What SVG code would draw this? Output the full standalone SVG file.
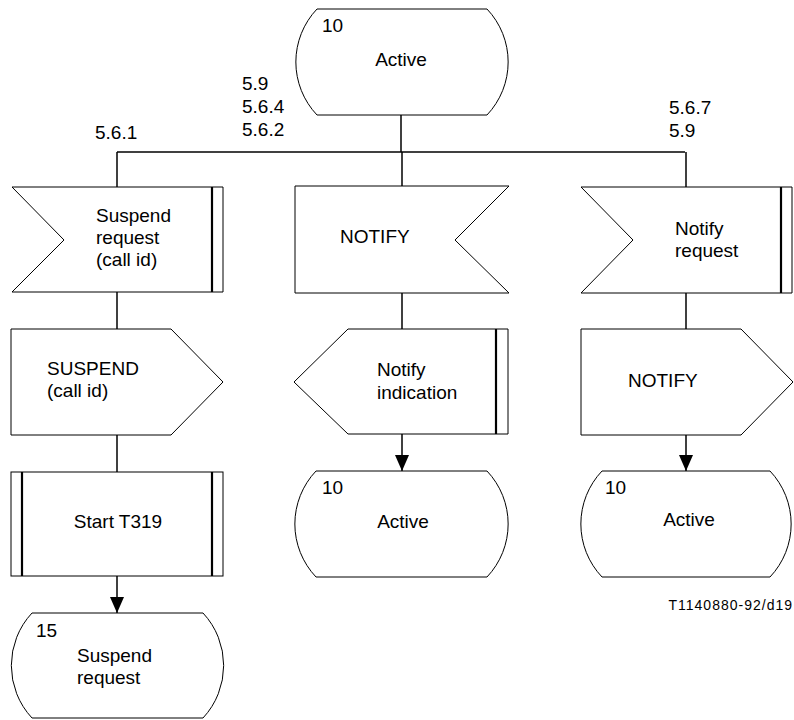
<svg xmlns="http://www.w3.org/2000/svg" width="794" height="720" viewBox="0 0 794 720">
<style>
.s{fill:#fff;stroke:#000;stroke-width:1}
.b{fill:none;stroke:#000;stroke-width:2.2}
.c{fill:none;stroke:#000;stroke-width:1.5}
text{font-family:"Liberation Sans",Arial,sans-serif;font-size:19px;fill:#000}
.m{text-anchor:middle}
.sm{font-size:14px;letter-spacing:1px;text-anchor:end}
</style>
<defs>
<marker id="ah" markerUnits="userSpaceOnUse" markerWidth="16" markerHeight="16" viewBox="0 0 16 16" refX="16" refY="8" orient="auto">
<path d="M0,1 L16,8 L0,15 Z" fill="#000"/>
</marker>
</defs>
<rect width="794" height="720" fill="#fff"/>
<g id="connectors">
<line class="c" x1="401" y1="115" x2="401" y2="152"/>
<line class="c" x1="117" y1="152" x2="685" y2="152"/>
<line class="c" x1="117" y1="152" x2="117" y2="187"/>
<line class="c" x1="402" y1="152" x2="402" y2="186"/>
<line class="c" x1="686" y1="152" x2="686" y2="187"/>
<line class="c" x1="117" y1="292" x2="117" y2="329"/>
<line class="c" x1="402" y1="293" x2="402" y2="329"/>
<line class="c" x1="686" y1="293" x2="686" y2="329"/>
<line class="c" x1="117" y1="435" x2="117" y2="472"/>
<line class="c" x1="117" y1="576" x2="117" y2="613" marker-end="url(#ah)"/>
<line class="c" x1="402" y1="434" x2="402" y2="471" marker-end="url(#ah)"/>
<line class="c" x1="686" y1="435" x2="686" y2="471" marker-end="url(#ah)"/>
</g>
<g id="labels">
<text x="242" y="90">5.9</text>
<text x="242" y="113">5.6.4</text>
<text x="242" y="136">5.6.2</text>
<text x="95" y="139">5.6.1</text>
<text x="669" y="114">5.6.7</text>
<text x="669" y="137">5.9</text>
<text class="sm" x="793" y="610">T1140880-92/d19</text>
</g>
<g id="state-top">
<path class="s" d="M317,9 L487,9 A77,77 0 0 1 487,115 L317,115 A77,77 0 0 1 317,9 Z"/>
<text x="322" y="32">10</text>
<text class="m" x="401" y="66">Active</text>
</g>
<g id="in-suspend-request">
<path class="s" d="M12,187 L223,187 L223,292 L12,292 L64,240 Z"/>
<line class="b" x1="212" y1="187" x2="212" y2="292"/>
<text x="96" y="222">Suspend</text>
<text x="96" y="244">request</text>
<text x="96" y="266">(call id)</text>
</g>
<g id="in-notify">
<path class="s" d="M295,186 L509,186 L455,240 L509,293 L295,293 Z"/>
<text x="340" y="243">NOTIFY</text>
</g>
<g id="in-notify-request">
<path class="s" d="M581,187 L792,187 L792,293 L581,293 L633,240 Z"/>
<line class="b" x1="781" y1="187" x2="781" y2="293"/>
<text x="675" y="235">Notify</text>
<text x="675" y="257">request</text>
</g>
<g id="out-suspend">
<path class="s" d="M11,329 L171,329 L223,382 L171,435 L11,435 Z"/>
<text x="47" y="375">SUSPEND</text>
<text x="47" y="397">(call id)</text>
</g>
<g id="out-notify-indication">
<path class="s" d="M348,329 L508,329 L508,434 L348,434 L294,382 Z"/>
<line class="b" x1="496" y1="329" x2="496" y2="434"/>
<text x="377" y="376">Notify</text>
<text x="377" y="399">indication</text>
</g>
<g id="out-notify">
<path class="s" d="M581,329 L741,329 L793,382 L741,435 L581,435 Z"/>
<text x="628" y="387">NOTIFY</text>
</g>
<g id="task-start-t319">
<rect class="s" x="11" y="472" width="212" height="104"/>
<line class="b" x1="22" y1="472" x2="22" y2="576"/>
<line class="b" x1="212" y1="472" x2="212" y2="576"/>
<text class="m" x="118" y="528">Start T319</text>
</g>
<g id="state-15">
<path class="s" d="M32,613 L203,613 A77,77 0 0 1 203,718 L32,718 A77,77 0 0 1 32,613 Z"/>
<text x="36" y="637">15</text>
<text x="77" y="662">Suspend</text>
<text x="77" y="684">request</text>
</g>
<g id="state-10-mid">
<path class="s" d="M316,471 L487,471 A77,77 0 0 1 487,577 L316,577 A77,77 0 0 1 316,471 Z"/>
<text x="322" y="494">10</text>
<text class="m" x="403" y="528">Active</text>
</g>
<g id="state-10-right">
<path class="s" d="M602,471 L770,471 A77,77 0 0 1 770,577 L602,577 A77,77 0 0 1 602,471 Z"/>
<text x="605" y="494">10</text>
<text class="m" x="689" y="526">Active</text>
</g>
</svg>
